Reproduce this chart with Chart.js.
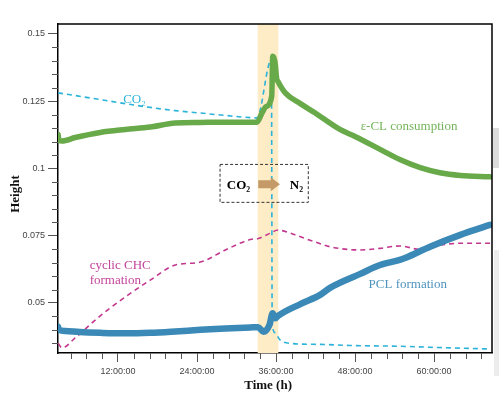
<!DOCTYPE html>
<html>
<head>
<meta charset="utf-8">
<script src="https://cdn.jsdelivr.net/npm/chart.js@4.4.1/dist/chart.umd.min.js"></script>
<style>
html,body{margin:0;padding:0;background:#fff;}
canvas{display:block;}
</style>
</head>
<body>
<canvas id="c" width="499" height="398"></canvas>
<script>
// ---- data (hours, height) ----
const ecmHours  = [2.9,3.05,3.5,5.5,9.3,13.1,16.9,20.7,24.5,28.3,32.1,33.1,33.9,34.5,35.35,35.5,35.8,35.9,36.1,36.3,37.4,39.7,41.9,45.7,48.0,51.8,54.8,57.9,60.9,64.0,68.5];
const ecmHeight = [0.1126,0.1104,0.1102,0.1115,0.1134,0.1145,0.1154,0.1169,0.1171,0.1172,0.1172,0.1172,0.1208,0.1230,0.1269,0.1417,0.1401,0.1383,0.1334,0.1323,0.1281,0.1241,0.1207,0.1145,0.1119,0.1071,0.1033,0.1003,0.0984,0.0974,0.0969];

const pclHours  = [2.9,3.05,4.0,6.2,9.3,13.1,16.9,20.7,24.5,28.3,32.1,33.3,34.1,35.0,35.5,35.9,36.3,39.7,42.7,44.2,48.8,51.8,54.8,55.6,59.4,64.0,68.5];
const pclHeight = [0.0411,0.0400,0.0396,0.0392,0.0389,0.0387,0.0389,0.0394,0.0400,0.0405,0.0409,0.0410,0.0393,0.0418,0.0462,0.0443,0.0452,0.0496,0.0530,0.0556,0.0608,0.0641,0.0660,0.0667,0.0709,0.0753,0.0790];

const co2Hours  = [2.9,5.5,9.3,13.1,16.9,20.7,24.5,28.3,32.1,33.1,35.3,35.42,35.85,36.6,38.1,42.7,47.2,54.8,62.4,68.5];
const co2Height = [0.1281,0.1271,0.1256,0.1241,0.1227,0.1215,0.1206,0.1197,0.1189,0.1188,0.1405,0.0426,0.0389,0.0363,0.0350,0.0346,0.0342,0.0339,0.0333,0.0329];

const chcHours  = [2.9,3.5,5.5,9.3,13.1,16.9,20.7,24.5,28.3,32.1,33.3,35.1,36.3,38.1,39.7,41.9,44.2,48.8,51.8,54.8,57.9,60.9,64.0,68.5];
const chcHeight = [0.0350,0.0333,0.0370,0.0452,0.0522,0.0585,0.0641,0.0652,0.0697,0.0736,0.0740,0.0759,0.0771,0.0760,0.0746,0.0727,0.0709,0.0697,0.0703,0.0712,0.0699,0.0715,0.0722,0.0722];

const xMajorHours  = [12,24,36,48,60];
const xTickLabels  = ['12:00:00','24:00:00','36:00:00','48:00:00','60:00:00'];
const yMajorValues = [0.05,0.075,0.1,0.125,0.15];
const yTickLabels  = ['0.05','0.075','0.1','0.125','0.15'];

const gasSwitchBand = [33.22, 36.35];

const toXY = (xs, ys) => xs.map((x, i) => ({x: x, y: ys[i]}));
const isMajorX = v => xMajorHours.some(h => Math.abs(h - v) < 1e-6);
const isMajorY = v => yMajorValues.some(h => Math.abs(h - v) < 1e-7);

const serif = '"Liberation Serif", "Times New Roman", serif';
const sans = '"Liberation Sans", Arial, sans-serif';

const deco = {
  id: 'deco',
  beforeDatasetsDraw(chart) {
    const {ctx, chartArea: a, scales: {x}} = chart;
    ctx.save();
    ctx.fillStyle = '#fdecc6';
    const x0 = x.getPixelForValue(gasSwitchBand[0]);
    const x1 = x.getPixelForValue(gasSwitchBand[1]);
    ctx.fillRect(x0, a.top, x1 - x0, a.bottom - a.top);
    ctx.restore();
  },
  afterDatasetsDraw(chart) {
    const {ctx, chartArea: a, scales: {x, y}} = chart;
    ctx.save();
    // frame top/right
    ctx.strokeStyle = '#000';
    ctx.lineWidth = 1.5;
    ctx.beginPath();
    ctx.moveTo(a.left, a.top); ctx.lineTo(a.right, a.top); ctx.lineTo(a.right, a.bottom);
    ctx.stroke();
    // minor ticks
    ctx.strokeStyle = '#555';
    ctx.lineWidth = 1;
    y.ticks.forEach(t => {
      if (!isMajorY(t.value)) {
        const py = Math.round(y.getPixelForValue(t.value)) + 0.5;
        ctx.beginPath(); ctx.moveTo(a.left - 6, py); ctx.lineTo(a.left, py); ctx.stroke();
      }
    });
    x.ticks.forEach(t => {
      if (!isMajorX(t.value)) {
        const px = Math.round(x.getPixelForValue(t.value)) + 0.5;
        ctx.beginPath(); ctx.moveTo(px, a.bottom); ctx.lineTo(px, a.bottom + 6); ctx.stroke();
      }
    });
    // annotation box
    const bx0 = x.getPixelForValue(27.5), bx1 = x.getPixelForValue(40.9);
    const by0 = y.getPixelForValue(0.1015), by1 = y.getPixelForValue(0.0874);
    ctx.setLineDash([3, 2]);
    ctx.strokeStyle = '#333';
    ctx.lineWidth = 1;
    ctx.strokeRect(bx0, by0, bx1 - bx0, by1 - by0);
    ctx.setLineDash([]);
    const my = y.getPixelForValue(0.0941);
    ctx.fillStyle = '#000';
    ctx.font = 'bold 13px ' + serif;
    ctx.textAlign = 'center';
    ctx.textBaseline = 'middle';
    ctx.fillText('CO₂', x.getPixelForValue(30.3), my + 1);
    ctx.fillText('N₂', x.getPixelForValue(39.1), my + 1);
    // arrow
    const ax0 = x.getPixelForValue(33.3), ax1 = x.getPixelForValue(36.6), axm = x.getPixelForValue(35.2);
    ctx.fillStyle = '#c49a68';
    ctx.beginPath();
    ctx.moveTo(ax0, my - 4); ctx.lineTo(axm, my - 4); ctx.lineTo(axm, my - 7);
    ctx.lineTo(ax1, my); ctx.lineTo(axm, my + 7); ctx.lineTo(axm, my + 4);
    ctx.lineTo(ax0, my + 4); ctx.closePath(); ctx.fill();
    // series labels
    ctx.font = '13px ' + serif;
    ctx.textAlign = 'center';
    ctx.fillStyle = '#2cb3d9';
    ctx.fillText('CO₂', x.getPixelForValue(14.5), y.getPixelForValue(0.1255));
    ctx.fillStyle = '#74b45a';
    ctx.fillText('ε-CL consumption', x.getPixelForValue(56.2), y.getPixelForValue(0.1156));
    ctx.fillStyle = '#4f93bd';
    ctx.fillText('PCL formation', x.getPixelForValue(56.0), y.getPixelForValue(0.0567));
    ctx.fillStyle = '#c2449a';
    ctx.textAlign = 'left';
    ctx.fillText('cyclic CHC', x.getPixelForValue(7.7), y.getPixelForValue(0.0638));
    ctx.fillText('formation', x.getPixelForValue(7.7), y.getPixelForValue(0.0582));
    // axis titles
    ctx.fillStyle = '#111';
    ctx.font = 'bold 13px ' + serif;
    ctx.textAlign = 'center';
    ctx.fillText('Time (h)', x.getPixelForValue(34.8), 386);
    ctx.save();
    ctx.translate(16, y.getPixelForValue(0.0905));
    ctx.rotate(-Math.PI / 2);
    ctx.fillText('Height', 0, 0);
    ctx.restore();
    // edge decoration
    ctx.fillStyle = '#dcdcdc';
    ctx.fillRect(493, 128, 6, 40);
    ctx.fillStyle = '#ececec';
    ctx.fillRect(494, 250, 5, 126);
    ctx.restore();
  }
};

const thick = {pointRadius: 0, borderCapStyle: 'round', borderJoinStyle: 'round', cubicInterpolationMode: 'monotone', order: 1};
const dashed = {pointRadius: 0, borderWidth: 1.6, borderDash: [5, 4], cubicInterpolationMode: 'monotone', order: 2};

new Chart(document.getElementById('c'), {
  type: 'line',
  data: {
    datasets: [
      Object.assign({label: 'ε-CL consumption', data: toXY(ecmHours, ecmHeight), borderColor: '#68a94a', borderWidth: 5.5}, thick),
      Object.assign({label: 'PCL formation', data: toXY(pclHours, pclHeight), borderColor: '#3a89b6', borderWidth: 6.5}, thick),
      Object.assign({label: 'CO2', data: toXY(co2Hours, co2Height), borderColor: '#2cb3d9'}, dashed),
      Object.assign({label: 'cyclic CHC formation', data: toXY(chcHours, chcHeight), borderColor: '#c2368e'}, dashed)
    ]
  },
  options: {
    responsive: false,
    animation: false,
    devicePixelRatio: 1,
    layout: {padding: {left: 0, top: 24, right: 7, bottom: 0}},
    plugins: {legend: {display: false}, tooltip: {enabled: false}},
    scales: {
      x: {
        type: 'linear', min: 2.89, max: 68.8,
        afterFit: s => { s.height = 45; },
        border: {color: '#000', width: 1.5},
        grid: {drawOnChartArea: false, tickLength: 9, tickColor: c => isMajorX(c.tick.value) ? '#555' : 'rgba(0,0,0,0)'},
        ticks: {
          stepSize: 2.4, includeBounds: false, autoSkip: false, maxRotation: 0, minRotation: 0,
          padding: 4, color: '#444', font: {family: sans, size: 9},
          callback: v => { const i = xMajorHours.findIndex(h => Math.abs(h - v) < 1e-6); return i >= 0 ? xTickLabels[i] : ''; }
        }
      },
      y: {
        type: 'linear', min: 0.0314, max: 0.1537,
        afterFit: s => { s.width = 58; },
        border: {color: '#000', width: 1.5},
        grid: {drawOnChartArea: false, tickLength: 10, tickColor: c => isMajorY(c.tick.value) ? '#555' : 'rgba(0,0,0,0)'},
        ticks: {
          stepSize: 0.005, includeBounds: false, autoSkip: false,
          padding: 3, color: '#444', font: {family: sans, size: 9},
          callback: v => { const i = yMajorValues.findIndex(h => Math.abs(h - v) < 1e-7); return i >= 0 ? yTickLabels[i] : ''; }
        }
      }
    }
  },
  plugins: [deco]
});
</script>
</body>
</html>
